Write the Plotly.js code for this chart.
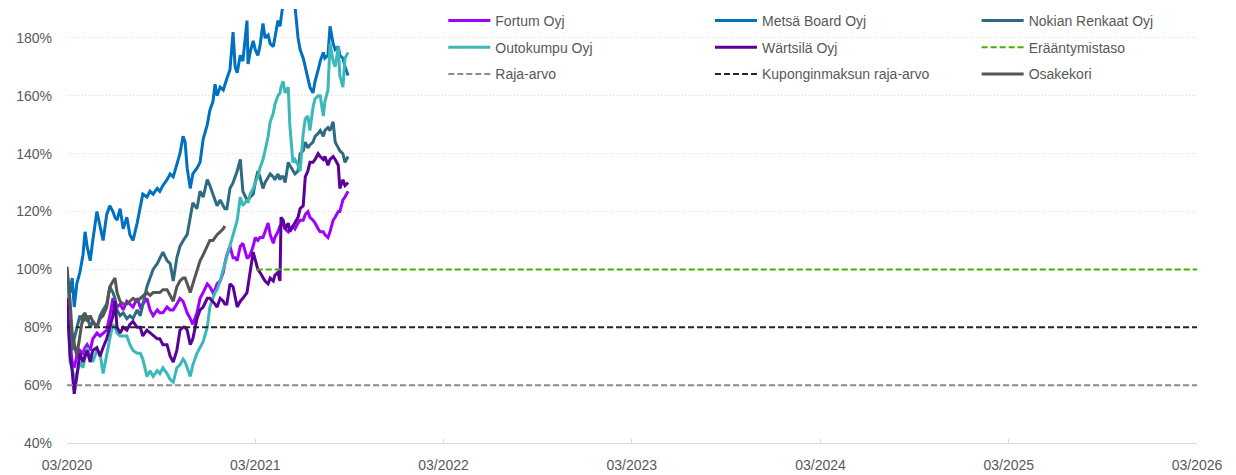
<!DOCTYPE html>
<html>
<head>
<meta charset="utf-8">
<script src="https://cdn.plot.ly/plotly-3.0.1.min.js"></script>
<style>html,body{margin:0;padding:0;background:#fff;}#chart{width:1236px;height:475px;}</style>
</head>
<body>
<div id="chart"></div>
<script>
const dates = [
'2020-03-01','2020-03-07','2020-03-11','2020-03-15','2020-03-20','2020-03-26','2020-04-01','2020-04-05','2020-04-09','2020-04-15',
'2020-04-20','2020-04-28','2020-05-04','2020-05-10','2020-05-17','2020-05-23','2020-05-29','2020-06-02','2020-06-06','2020-06-12',
'2020-06-18','2020-06-25','2020-07-01','2020-07-07','2020-07-15','2020-07-21','2020-07-26','2020-08-03','2020-08-09','2020-08-15',
'2020-08-23','2020-08-28','2020-09-03','2020-09-11','2020-09-17','2020-09-23','2020-09-30','2020-10-06','2020-10-12','2020-10-16',
'2020-10-20','2020-10-26','2020-10-31','2020-11-08','2020-11-14','2020-11-20','2020-11-28','2020-12-03','2020-12-09','2020-12-13',
'2020-12-17','2020-12-23','2020-12-29','2021-01-01','2021-01-05','2021-01-11','2021-01-17','2021-01-21','2021-01-25','2021-01-31',
'2021-02-05','2021-02-13','2021-02-15','2021-02-19','2021-02-25','2021-03-01','2021-03-06','2021-03-10','2021-03-16','2021-03-20',
'2021-03-26','2021-03-30','2021-04-05','2021-04-08','2021-04-14','2021-04-18','2021-04-20','2021-04-24','2021-04-28','2021-05-04',
'2021-05-07','2021-05-13','2021-05-17','2021-05-23','2021-05-27','2021-06-02','2021-06-06','2021-06-11','2021-06-15','2021-06-21',
'2021-06-25','2021-07-01','2021-07-05','2021-07-11','2021-07-14','2021-07-20','2021-07-24','2021-07-30','2021-08-03','2021-08-09',
'2021-08-12','2021-08-18','2021-08-22','2021-08-28'];

const fortum = [92,75,68,66,70,72,71,73,74,72, 76,78,77,78,79,84,90,89,87,88, 86,89,88,87,90,87,88,90,86,84,
86,85,85,87,86,86,88,90,89,87, 85,83,81,85,90,92,95,94,92,93, 95,96,99,102,105,108,104,104,103,108,
109,104,104,105,108,111,110,111,111,113, 116,112,109,111,113,115,115,116,114,113, 114,115,114,116,117,117,119,120,118,117,
116,114,113,113,112,111,113,117,118,120, 120,124,125,127];

const metsa = [97,92,97,87,95,99,105,113,108,103, 110,120,115,110,119,122,120,118,117,121, 114,118,112,110,116,121,126,125,127,126,
128,127,129,131,133,132,136,140,146,144, 135,128,133,135,137,145,150,155,158,164, 160,163,162,164,166,169,182,170,168,174,
172,186,171,175,179,176,174,177,185,180, 181,178,177,180,186,184,187,192,195,197, 196,194,191,180,176,173,170,166,163,161,
165,169,172,175,173,174,184,178,176,177, 174,173,170,167];

const nokian = [100,85,72,76,80,84,82,83,84,80, 82,80,84,86,88,94,92,90,86,84, 85,83,84,83,86,84,88,94,97,100,
102,104,106,103,102,96,104,108,110,111, 112,118,123,121,127,125,131,129,126,124, 122,124,122,121,121,128,130,132,134,138,
127,124,124,125,126,130,134,132,128,130, 132,133,132,131,133,131,132,132,130,137, 136,134,133,134,140,141,144,142,143,144,
146,147,148,146,148,149,148,151,144,142, 141,140,137,139];

const outokumpu = [95,68,66,62,64,68,66,70,73,70, 68,72,71,64,71,76,81,80,78,77, 77,77,74,72,71,71,69,63,65,63,
65,64,66,64,62,61,66,67,69,68, 66,63,67,71,73,75,80,87,90,92, 93,96,100,102,104,108,112,115,117,125,
122,124,123,126,128,130,132,135,138,141, 146,151,154,157,160,161,163,165,161,163, 150,137,138,136,134,147,152,153,148,156,
159,160,160,153,158,162,178,172,170,177, 167,163,173,175];

const wartsila = [90,70,65,57,63,71,68,70,72,68, 72,73,70,73,76,80,84,89,80,78, 80,79,81,82,80,80,77,79,78,77,
76,76,74,74,70,68,72,79,80,80, 79,74,76,83,86,87,90,90,89,88, 87,90,89,88,88,95,94,90,87,89,
90,92,94,99,106,103,100,99,97,96, 95,97,96,98,99,96,118,117,114,116, 113,115,116,118,121,122,132,134,137,137,
138,140,139,138,139,136,138,139,138,136, 128,131,129,130];

const osakekori = [101,89,78,74,70,77,84,85,82,84, 82,80,83,84,87,94,96,97,92,89, 88,88,89,90,89,90,91,92,91,92,
92,92,93,93,91,89,94,96,97,97, 95,92,95,100,103,105,108,110,110,111, 112,113,114,115];

const levelDates = ['2020-03-01','2026-03-01'];
const maturityDates = ['2021-03-04','2026-03-01'];
const maturityLevel = [100,100];
const barrierLevel = [60,60];
const couponLevel = [80,80];

const tickDates = ['2020-03-01','2021-03-01','2022-03-01','2023-03-01','2024-03-01','2025-03-01','2026-03-01'];
const tickLabels = ['03/2020','03/2021','03/2022','03/2023','03/2024','03/2025','03/2026'];
const yTicks = [40,60,80,100,120,140,160,180];
const yLabels = ['40%','60%','80%','100%','120%','140%','160%','180%'];

const FONT = '"Liberation Sans", Arial, sans-serif';
function line(name, x, y, color, legend, opts) {
  opts = opts || {};
  return {
    type: 'scatter', mode: 'lines', name: name, x: x, y: y,
    line: {color: color, width: opts.width || 3, dash: opts.dash || 'solid'},
    legend: legend, legendgroup: name, hoverinfo: 'skip'
  };
}
const data = [
  line('Fortum Oyj', dates, fortum, '#A000FF', 'legend'),
  line('Metsä Board Oyj', dates, metsa, '#0070C0', 'legend2'),
  line('Nokian Renkaat Oyj', dates, nokian, '#2E6B82', 'legend3'),
  line('Outokumpu Oyj', dates, outokumpu, '#3BB8B8', 'legend'),
  line('Wärtsilä Oyj', dates, wartsila, '#5B0099', 'legend2'),
  line('Erääntymistaso', maturityDates, maturityLevel, '#46B000', 'legend3', {width: 2, dash: '6px,3px'}),
  line('Raja-arvo', levelDates, barrierLevel, '#8C8C8C', 'legend', {width: 2, dash: '6px,3px'}),
  line('Kuponginmaksun raja-arvo', levelDates, couponLevel, '#262626', 'legend2', {width: 2, dash: '6px,3px'}),
  line('Osakekori', dates.slice(0, osakekori.length), osakekori, '#555555', 'legend3')
];

const legBase = {
  orientation: 'v', yanchor: 'top', xanchor: 'left', y: 1.0092,
  bgcolor: 'rgba(0,0,0,0)', borderwidth: 0, tracegroupgap: 5.5, itemwidth: 42,
  font: {family: FONT, size: 14, color: '#595959'}, itemclick: false, itemdoubleclick: false
};
const layout = {
  width: 1236, height: 475,
  margin: {l: 67, r: 39, t: 9, b: 32, autoexpand: false},
  paper_bgcolor: '#ffffff', plot_bgcolor: '#ffffff',
  font: {family: FONT, size: 14, color: '#595959'},
  showlegend: true,
  legend: Object.assign({}, legBase, {x: 0.333}),
  legend2: Object.assign({}, legBase, {x: 0.569}),
  legend3: Object.assign({}, legBase, {x: 0.805}),
  xaxis: {
    type: 'date', range: ['2020-03-01','2026-03-01'],
    tickmode: 'array', tickvals: tickDates, ticktext: tickLabels,
    showgrid: false, zeroline: false, automargin: false,
    showline: true, linecolor: '#d9d9d9', linewidth: 1,
    ticks: 'inside', ticklen: 4, tickcolor: '#d9d9d9', ticklabelstandoff: 9,
    tickfont: {family: FONT, size: 14, color: '#595959'}
  },
  yaxis: {
    range: [40, 190], tickmode: 'array', tickvals: yTicks, ticktext: yLabels,
    showgrid: true, gridcolor: '#dcdcdc', griddash: '1px,2px', gridwidth: 1,
    zeroline: false, showline: false, ticks: '', ticklabelstandoff: 14, automargin: false,
    tickfont: {family: FONT, size: 14, color: '#595959'}
  }
};
Plotly.newPlot('chart', data, layout, {displayModeBar: false, staticPlot: true});
</script>
</body>
</html>
